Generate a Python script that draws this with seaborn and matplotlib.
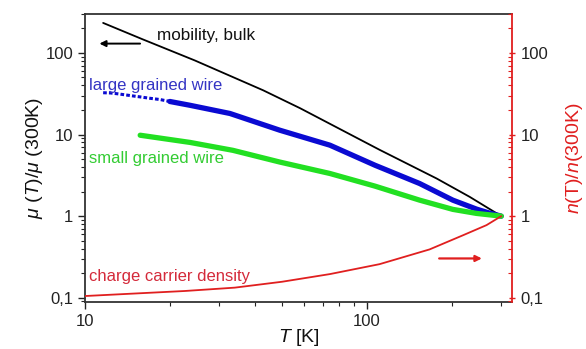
import numpy as np
import pandas as pd
import matplotlib
matplotlib.use("Agg")
import matplotlib.pyplot as plt
from matplotlib.ticker import FixedLocator, FixedFormatter, LogLocator, NullFormatter
import seaborn as sns

# ---- data ----
bulk_T = [11.6, 16, 24.5, 42.9, 58, 111, 177, 232, 300]
bulk_v = [233, 147, 81, 34.8, 21, 6.5, 2.89, 1.72, 1.0]

large_dots_T = [11.6, 12.3, 13.1, 14.0, 15.0, 15.7, 17.0, 18.5, 20.0]
large_dots_v = [32.5, 32.3, 31.5, 30.5, 29.5, 28.9, 27.8, 26.8, 25.4]
large_T = [20.0, 23.6, 32.7, 49.1, 74, 107, 154, 202, 245, 270, 300]
large_v = [25.4, 22.8, 18.1, 11.3, 7.4, 4.2, 2.51, 1.57, 1.22, 1.1, 1.0]

small_T = [15.7, 23.6, 33.5, 49.1, 74, 107, 154, 202, 245, 300]
small_v = [9.8, 8.0, 6.4, 4.6, 3.33, 2.33, 1.57, 1.21, 1.08, 1.0]

dens_T = [10, 22.6, 34, 50, 74, 111, 167, 220, 266, 300]
dens_v = [0.105, 0.121, 0.133, 0.157, 0.195, 0.258, 0.391, 0.585, 0.776, 1.0]

y_ticks = [0.1, 1, 10, 100]
y_labels = ["0,1", "1", "10", "100"]
x_ticks = [10, 100]
x_labels = ["10", "100"]

# ---- style ----
sns.set_style("ticks")
plt.rcParams["font.family"] = ["Liberation Sans", "DejaVu Sans"]
plt.rcParams["mathtext.fontset"] = "custom"
plt.rcParams["mathtext.rm"] = "Liberation Sans"
plt.rcParams["mathtext.it"] = "Liberation Sans:italic"

BLACK = "#000000"
BLUE = "#0a0ad2"
GREEN = "#22e022"
RED = "#e01f1f"

fig = plt.figure(figsize=(5.86, 3.49), dpi=100)
ax = fig.add_axes([0.145, 0.135, 0.729, 0.825])
ax2 = ax.twinx()

sns.lineplot(x=bulk_T, y=bulk_v, ax=ax, color=BLACK, linewidth=1.3, estimator=None, sort=False)
sns.lineplot(x=large_dots_T, y=large_dots_v, ax=ax, color=BLUE, linewidth=2.2,
             linestyle=(0, (1.2, 0.7)), estimator=None, sort=False)
sns.lineplot(x=large_T, y=large_v, ax=ax, color=BLUE, linewidth=3.8, estimator=None, sort=False)
sns.lineplot(x=small_T, y=small_v, ax=ax, color=GREEN, linewidth=3.8, estimator=None, sort=False)
sns.lineplot(x=dens_T, y=dens_v, ax=ax2, color=RED, linewidth=1.3, estimator=None, sort=False)

for a in (ax, ax2):
    a.set_xscale("log")
    a.set_yscale("log")
    a.set_ylim(0.089, 300)
ax.set_xlim(10, 328)

ax.yaxis.set_major_locator(FixedLocator(y_ticks))
ax.yaxis.set_major_formatter(FixedFormatter(y_labels))
ax.yaxis.set_minor_locator(LogLocator(base=10, subs=np.arange(2, 10)))
ax.yaxis.set_minor_formatter(NullFormatter())
ax2.yaxis.set_major_locator(FixedLocator(y_ticks))
ax2.yaxis.set_major_formatter(FixedFormatter(y_labels))
ax2.yaxis.set_minor_locator(LogLocator(base=10, subs=np.arange(2, 10)))
ax2.yaxis.set_minor_formatter(NullFormatter())
ax.xaxis.set_major_locator(FixedLocator(x_ticks))
ax.xaxis.set_major_formatter(FixedFormatter(x_labels))
ax.xaxis.set_minor_locator(LogLocator(base=10, subs=np.arange(2, 10)))
ax.xaxis.set_minor_formatter(NullFormatter())

ax.tick_params(axis="both", which="major", labelsize=12, length=5, width=1, direction="out",
               color="#222222", labelcolor="#222222")
ax.tick_params(axis="both", which="minor", length=3, width=0.8, direction="out", color="#222222")
ax2.tick_params(axis="y", which="major", labelsize=12, length=5, width=1, direction="inout",
                color=RED, labelcolor="#222222")
ax2.tick_params(axis="y", which="minor", length=3, width=0.8, direction="in", color=RED)

for s in ("left", "bottom", "top"):
    ax.spines[s].set_color("#333333")
    ax.spines[s].set_linewidth(1.3)
ax.spines["top"].set_visible(True)
ax.spines["right"].set_visible(False)
ax2.spines["right"].set_color(RED)
ax2.spines["right"].set_linewidth(1.3)
ax2.spines["right"].set_visible(True)
ax2.spines["top"].set_visible(False)
ax2.spines["left"].set_visible(False)
ax2.spines["bottom"].set_visible(False)

ax.set_ylabel(r"$\mu$ ($T$)/$\mu$ (300K)", fontsize=14, labelpad=0.5, color="#111111")
ax2.set_ylabel(r"$n$(T)/$n$(300K)", fontsize=14, labelpad=11, color=RED)
ax.set_xlabel(r"$T$ [K]", fontsize=14, labelpad=-1, color="#111111")

# annotations
ax.text(18.0, 164, "mobility, bulk", fontsize=12.3, color="#111111", va="center", ha="left")
ax.annotate("", xy=(11.0, 130), xytext=(16.05, 130),
            arrowprops=dict(arrowstyle="-|>", color=BLACK, lw=1.4, mutation_scale=9))
ax.text(10.33, 40, "large grained wire", fontsize=12, color="#3434c4", va="center", ha="left")
ax.text(10.33, 5.1, "small grained wire", fontsize=12, color="#33cc33", va="center", ha="left")
ax.text(10.33, 0.181, "charge carrier density", fontsize=12, color="#d42a3a", va="center", ha="left")
ax2.annotate("", xy=(262, 0.303), xytext=(176.6, 0.303),
             arrowprops=dict(arrowstyle="-|>", color=RED, lw=1.6, mutation_scale=9))

fig.savefig("out.png", dpi=100)
